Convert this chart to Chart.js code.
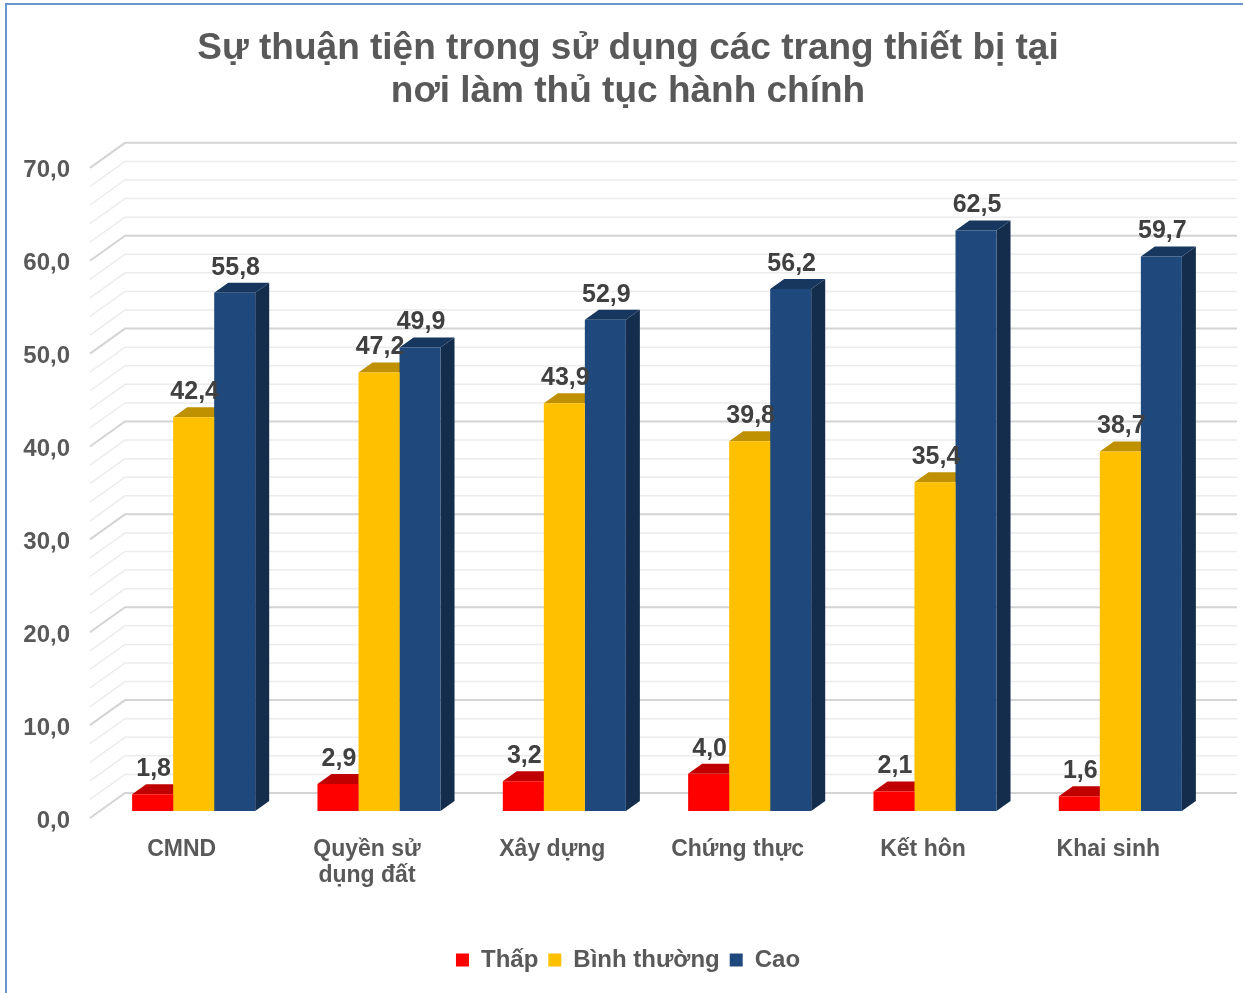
<!DOCTYPE html>
<html>
<head>
<meta charset="utf-8">
<script src="https://cdn.jsdelivr.net/npm/chart.js@4.4.0/dist/chart.umd.min.js"></script>
<style>
  body { margin: 0; background: #fff; }
  #wrap { position: relative; width: 1243px; height: 993px; }
  #frameTop { position: absolute; left: 5px; top: 3px; right: 0; height: 2px; background: #6a95cc; }
  #frameLeft { position: absolute; left: 5px; top: 3px; bottom: 0; width: 2px; background: #6a95cc; }
</style>
</head>
<body>
<div id="wrap">
  <canvas id="chart" width="1243" height="993"></canvas>
  <div id="frameTop"></div>
  <div id="frameLeft"></div>
</div>
<script>
// --- data
const categories = ["CMND", ["Quyền sử", "dụng đất"], "Xây dựng", "Chứng thực", "Kết hôn", "Khai sinh"];
const seriesNames = ["Thấp", "Bình thường", "Cao"];
const thapValues = [1.8, 2.9, 3.2, 4.0, 2.1, 1.6];
const binhThuongValues = [42.4, 47.2, 43.9, 39.8, 35.4, 38.7];
const caoValues = [55.8, 49.9, 52.9, 56.2, 62.5, 59.7];
const yMin = 0, yMax = 70, yLabelStep = 10, yMinorStep = 2;

// --- colours: front / top / side
const fronts = ["#ff0000", "#ffc000", "#1f497d"];
const tops = ["#c00000", "#bf9000", "#17375e"];
const sides = ["#a00000", "#9c7600", "#142d4c"];

const DX = 14, DY = 10;       // bar depth
const fmt = v => v.toFixed(1).replace(".", ",");

// 3D floor / wall grid + top and side faces of the bars
const bars3d = {
  id: "bars3d",
  beforeDatasetsDraw(chart) {
    const ctx = chart.ctx;
    const y = chart.scales.y;
    const area = chart.chartArea;
    ctx.save();
    for (let v = yMin; v <= yMax + 0.001; v += yMinorStep) {
      const py = y.getPixelForValue(v);
      const major = Math.abs(v % yLabelStep) < 0.001;
      ctx.strokeStyle = major ? "#d4d4d4" : "#ececec";
      ctx.lineWidth = major ? 2 : 1.5;
      ctx.beginPath();
      ctx.moveTo(area.left - 11, py + 7);
      ctx.lineTo(area.left + 24, py - 18);
      ctx.lineTo(area.right + 24, py - 18);
      ctx.stroke();
    }
    chart.data.datasets.forEach((ds, i) => {
      chart.getDatasetMeta(i).data.forEach(bar => {
        const l = bar.x - bar.width / 2, r = bar.x + bar.width / 2;
        const t = bar.y, b = bar.base;
        ctx.fillStyle = sides[i];
        ctx.beginPath();
        ctx.moveTo(r, t); ctx.lineTo(r + DX, t - DY);
        ctx.lineTo(r + DX, b - DY); ctx.lineTo(r, b);
        ctx.closePath(); ctx.fill();
        ctx.fillStyle = tops[i];
        ctx.beginPath();
        ctx.moveTo(l, t); ctx.lineTo(r, t);
        ctx.lineTo(r + DX, t - DY); ctx.lineTo(l + DX, t - DY);
        ctx.closePath(); ctx.fill();
      });
    });
    ctx.restore();
  },
  afterDatasetsDraw(chart) {
    const ctx = chart.ctx;
    ctx.save();
    ctx.font = "bold 25px 'Liberation Sans', Arial, sans-serif";
    ctx.fillStyle = "#404040";
    ctx.textAlign = "center";
    ctx.textBaseline = "middle";
    chart.data.datasets.forEach((ds, i) => {
      chart.getDatasetMeta(i).data.forEach((bar, j) => {
        ctx.fillText(fmt(ds.data[j]), bar.x + 1, bar.y - 25);
      });
    });
    ctx.restore();
  }
};

new Chart(document.getElementById("chart"), {
  type: "bar",
  data: {
    labels: categories,
    datasets: [
      { label: seriesNames[0], data: thapValues, backgroundColor: fronts[0] },
      { label: seriesNames[1], data: binhThuongValues, backgroundColor: fronts[1] },
      { label: seriesNames[2], data: caoValues, backgroundColor: fronts[2] }
    ]
  },
  options: {
    responsive: false,
    animation: false,
    events: [],
    categoryPercentage: 0.664,
    barPercentage: 1.0,
    layout: { padding: { top: 0, right: 0, bottom: 11, left: 13 } },
    plugins: {
      title: {
        display: true,
        text: ["Sự thuận tiện trong sử dụng các trang thiết bị tại", "nơi làm thủ tục hành chính"],
        color: "#595959",
        font: { family: "'Liberation Sans', Arial, sans-serif", size: 37, weight: "bold", lineHeight: 1.16 },
        padding: { top: 27.5, bottom: 47.5 }
      },
      legend: {
        position: "bottom",
        labels: {
          color: "#595959",
          boxWidth: 13,
          boxHeight: 13,
          padding: 10,
          font: { family: "'Liberation Sans', Arial, sans-serif", size: 24, weight: "bold" }
        }
      },
      tooltip: { enabled: false }
    },
    scales: {
      x: {
        grid: { display: false, drawTicks: false },
        border: { display: false },
        ticks: {
          color: "#595959",
          padding: 25,
          labelOffset: -12,
          maxRotation: 0,
          font: { family: "'Liberation Sans', Arial, sans-serif", size: 23, weight: "bold", lineHeight: 1.15 }
        },
        afterFit(scale) { scale.height = 127; }
      },
      y: {
        min: yMin,
        max: yMax,
        grid: { display: false, drawTicks: false },
        border: { display: false },
        ticks: {
          stepSize: yLabelStep,
          color: "#595959",
          padding: 31,
          labelOffset: 10,
          font: { family: "'Liberation Sans', Arial, sans-serif", size: 24, weight: "bold" },
          callback: v => fmt(v)
        },
        afterFit(scale) { scale.width = 88; }
      },
      // empty right-hand axis: keeps room for the 3D depth of the wall
      yRight: {
        position: "right",
        min: yMin,
        max: yMax,
        grid: { display: false, drawTicks: false },
        border: { display: false },
        ticks: { display: false },
        afterFit(scale) { scale.width = 30; }
      }
    }
  },
  plugins: [bars3d]
});
</script>
</body>
</html>
